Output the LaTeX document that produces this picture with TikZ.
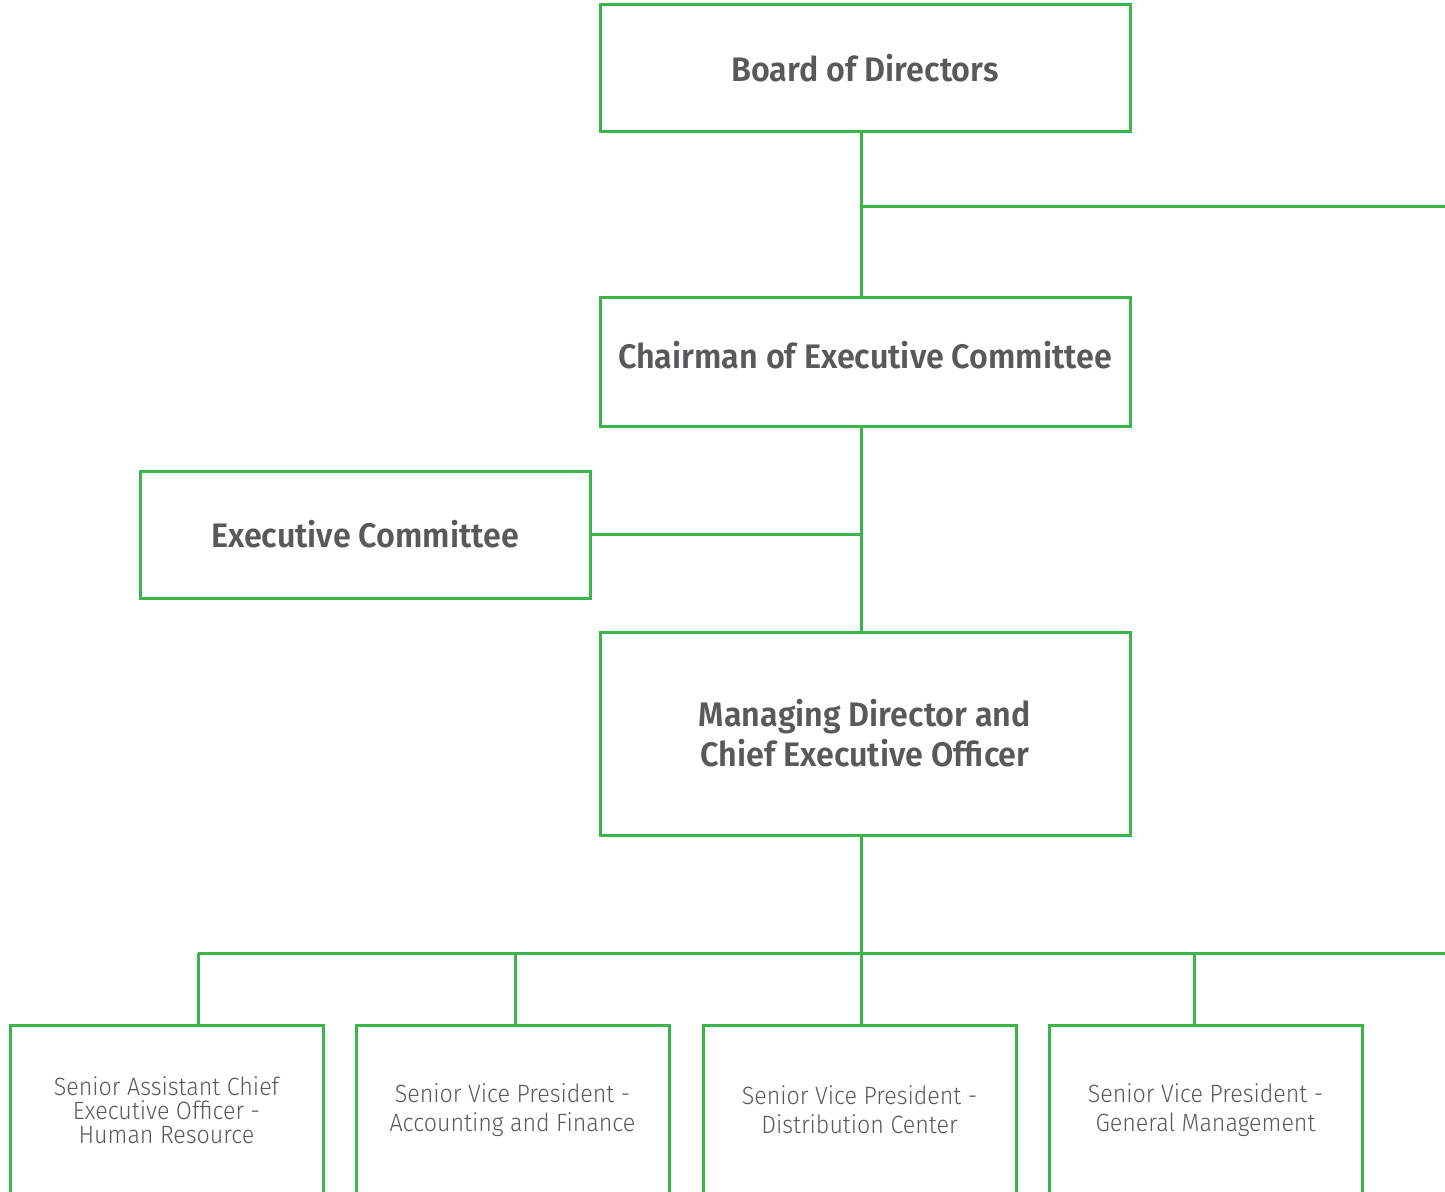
\documentclass[tikz,border=0pt]{standalone}
\usepackage{fontspec}
\newfontfamily\boxbold{Fira Sans SemiBold}[FakeStretch=0.95]
\newfontfamily\boxlight{Fira Sans Light}[FakeStretch=0.93]
\definecolor{orggreen}{HTML}{3BB54A}
\definecolor{orggray}{HTML}{58595B}
\begin{document}
\begin{tikzpicture}[x=0.5pt,y=-0.5pt,
    link/.style={draw=orggreen, line width=1.5pt},
    topbox/.style={draw=orggreen, line width=1.5pt, text=orggray, align=center,
        inner sep=0pt, minimum width=265pt, font=\boxbold\fontsize{17}{20}\selectfont},
    staffbox/.style={draw=orggreen, line width=1.5pt, text=orggray, align=center,
        inner sep=0pt, minimum width=156.5pt, minimum height=85pt,
        font=\boxlight\fontsize{12.5}{14.5}\selectfont}]
    \useasboundingbox (0,0) rectangle (1445,1192);
    \clip (0,0) rectangle (1445,1192);

    % Top of the chart
    \node[topbox, minimum height=63.5pt] (board) at (865,68.5) {Board of Directors};
    \node[topbox, minimum height=64.5pt] (chair) at (865,362.5) {\raisebox{8pt}{Chairman of Executive Committee}};
    \node[topbox, minimum width=225pt, minimum height=63.5pt] (exec) at (365,534.5) {Executive Committee};
    \node[topbox, minimum height=101.5pt] (md) at (865,733.5) {Managing Director and\\Chief Executive Officer};

    % Bottom row
    \node[staffbox, font=\boxlight\fontsize{12.5}{12}\selectfont] (hr) at (166.5,1110) {Senior Assistant Chief\\Executive Officer -\\Human Resource};
    \node[staffbox] (acc) at (512.5,1110) {Senior Vice President -\\Accounting and Finance};
    \node[staffbox] (dist) at (859.5,1110) {Senior Vice President -\\Distribution Center};
    \node[staffbox] (gen) at (1205.5,1110) {Senior Vice President -\\General Management};

    % Lines
    \coordinate (spine) at (861,0);
    \coordinate (sideR) at (1445,207);
    \coordinate (busL) at (198,953);
    \coordinate (busR) at (1445,953);
    \draw[link] (board.south -| spine) -- (chair.north -| spine);
    \draw[link] (spine |- sideR) -- (sideR);
    \draw[link] (chair.south -| spine) -- (md.north -| spine);
    \draw[link] (exec.east) -- (exec.east -| spine);
    \draw[link] (md.south -| spine) -- (dist.north -| spine);
    \draw[link] (busL) -- (busR);
    \foreach \x/\b in {198/hr, 515/acc, 1194/gen}
        \draw[link] (\x,953) -- (\b.north -| {(\x,953)});
\end{tikzpicture}
\end{document}
